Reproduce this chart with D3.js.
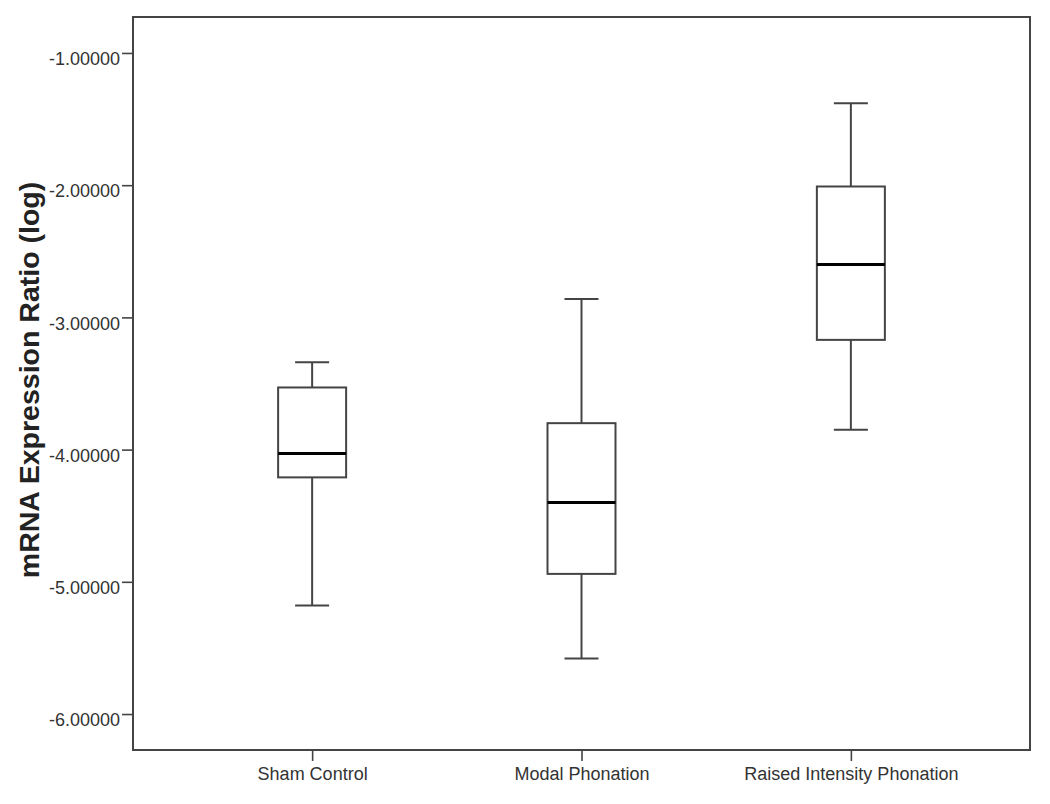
<!DOCTYPE html>
<html>
<head>
<meta charset="utf-8">
<script src="https://cdn.jsdelivr.net/npm/d3@7"></script>
<style>
  html, body { margin: 0; padding: 0; background: #fff; }
  svg { display: block; }
</style>
</head>
<body>
<svg id="chart" width="1050" height="804"></svg>
<script>
const categories = ["Sham Control", "Modal Phonation", "Raised Intensity Phonation"];
const whiskerLow  = [-5.18, -5.58, -3.85];
const q1          = [-4.21, -4.94, -3.17];
const median      = [-4.03, -4.40, -2.60];
const q3          = [-3.53, -3.80, -2.01];
const whiskerHigh = [-3.34, -2.86, -1.38];
const yTicks = [-1, -2, -3, -4, -5, -6];
const yTitle = "mRNA Expression Ratio (log)";

(function () {
const svg = d3.select("#chart");
const mLeft = 133, mRight = 1030, mTop = 17, mBottom = 750;

const x = d3.scalePoint().domain(categories).range([mLeft, mRight]).padding(0.665);
const y = d3.scaleLinear().domain([-6.272, -0.728]).range([mBottom, mTop]);

const lineColor = "#444";
const textColor = "#333";
const font = "Arial, 'Liberation Sans', Helvetica, sans-serif";

// Frame
svg.append("rect")
  .attr("x", mLeft).attr("y", mTop)
  .attr("width", mRight - mLeft).attr("height", mBottom - mTop)
  .attr("fill", "none").attr("stroke", lineColor).attr("stroke-width", 2);

// Y axis
const yAxis = d3.axisLeft(y).tickValues(yTicks).tickSize(11).tickPadding(2)
  .tickFormat(d => d.toFixed(5));
const gy = svg.append("g").attr("transform", `translate(${mLeft},0)`).call(yAxis);
gy.select(".domain").remove();
gy.selectAll(".tick line").attr("stroke", lineColor).attr("stroke-width", 1.6);
gy.selectAll(".tick text")
  .attr("fill", textColor).attr("font-family", font).attr("font-size", 18)
  .attr("dy", "0.65em");

// X axis
const xAxis = d3.axisBottom(x).tickSize(11).tickPadding(6);
const gx = svg.append("g").attr("transform", `translate(0,${mBottom})`).call(xAxis);
gx.select(".domain").remove();
gx.selectAll(".tick line").attr("stroke", lineColor).attr("stroke-width", 1.6);
gx.selectAll(".tick text")
  .attr("fill", textColor).attr("font-family", font).attr("font-size", 18);

// Y title
svg.append("text")
  .attr("transform", `translate(39,380) rotate(-90)`)
  .attr("text-anchor", "middle")
  .attr("font-family", font).attr("font-weight", "bold").attr("font-size", 28.5)
  .attr("fill", "#222")
  .text(yTitle);

// Boxes
const boxW = 68, capW = 34;
const data = categories.map((c, i) => ({
  c, lo: whiskerLow[i], q1: q1[i], med: median[i], q3: q3[i], hi: whiskerHigh[i]
}));
const g = svg.append("g").selectAll("g").data(data).join("g");

g.append("line")
  .attr("x1", d => x(d.c)).attr("x2", d => x(d.c))
  .attr("y1", d => y(d.hi)).attr("y2", d => y(d.q3))
  .attr("stroke", lineColor).attr("stroke-width", 2);
g.append("line")
  .attr("x1", d => x(d.c)).attr("x2", d => x(d.c))
  .attr("y1", d => y(d.q1)).attr("y2", d => y(d.lo))
  .attr("stroke", lineColor).attr("stroke-width", 2);
g.append("line")
  .attr("x1", d => x(d.c) - capW / 2).attr("x2", d => x(d.c) + capW / 2)
  .attr("y1", d => y(d.hi)).attr("y2", d => y(d.hi))
  .attr("stroke", lineColor).attr("stroke-width", 2);
g.append("line")
  .attr("x1", d => x(d.c) - capW / 2).attr("x2", d => x(d.c) + capW / 2)
  .attr("y1", d => y(d.lo)).attr("y2", d => y(d.lo))
  .attr("stroke", lineColor).attr("stroke-width", 2);
g.append("rect")
  .attr("x", d => x(d.c) - boxW / 2).attr("width", boxW)
  .attr("y", d => y(d.q3)).attr("height", d => y(d.q1) - y(d.q3))
  .attr("fill", "#fff").attr("stroke", lineColor).attr("stroke-width", 2);
g.append("line")
  .attr("x1", d => x(d.c) - boxW / 2).attr("x2", d => x(d.c) + boxW / 2)
  .attr("y1", d => y(d.med)).attr("y2", d => y(d.med))
  .attr("stroke", "#000").attr("stroke-width", 3);
})();
</script>
</body>
</html>
